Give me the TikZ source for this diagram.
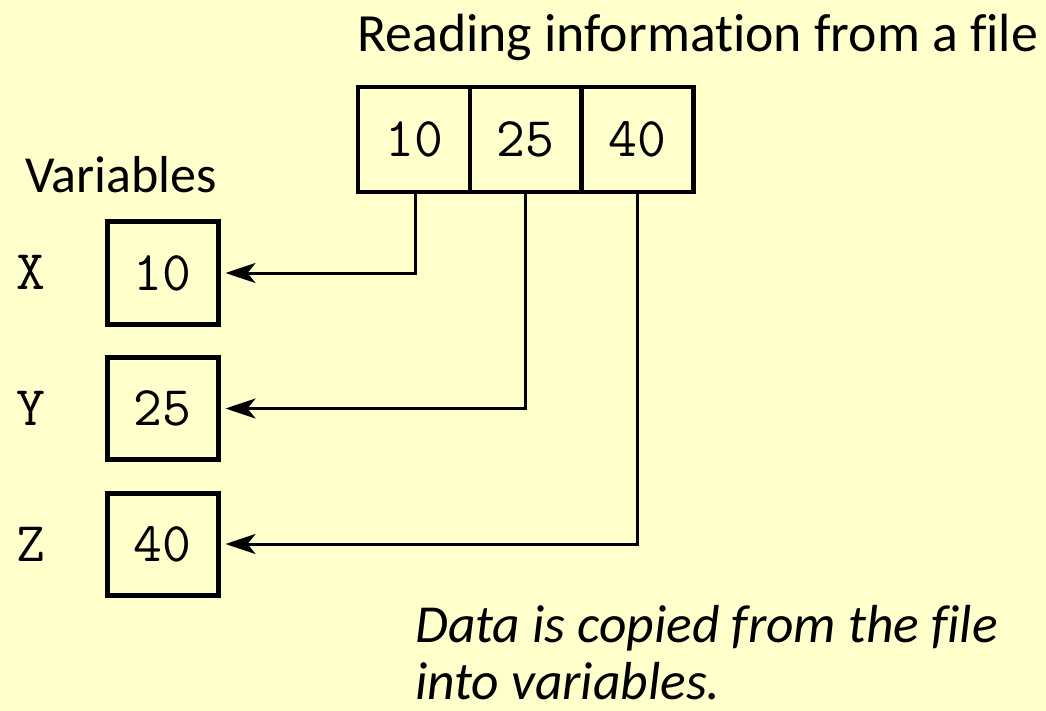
\documentclass[tikz,border=0pt]{standalone}
\usepackage{fontspec}
\setmainfont{Carlito}[Ligatures=NoCommon]
\setmonofont{Latin Modern Mono}
\usetikzlibrary{arrows.meta}
\definecolor{bgyellow}{RGB}{255,255,204}
\tikzset{
  cell/.style={draw=black, line width=4.5pt, minimum width=111.7pt, minimum height=105pt, inner sep=0pt, font=\fontsize{56}{60}\selectfont\ttfamily},
  varbox/.style={draw=black, line width=5pt, minimum width=111pt, minimum height=102pt, inner sep=0pt, font=\fontsize{56}{60}\selectfont\ttfamily},
  varlabel/.style={inner sep=0pt, font=\fontsize{56}{60}\selectfont\ttfamily},
  arr/.style={draw=black, line width=3pt, -{Stealth[length=30pt,width=20pt,inset=8pt]}, shorten >=5pt},
  heading/.style={inner sep=0pt, anchor=base west},
  note/.style={inner sep=0pt, anchor=base west, font=\fontsize{53.5}{58}\selectfont\itshape}
}
\begin{document}
\begin{tikzpicture}[x=1pt,y=-1pt]
\fill[bgyellow] (0,0) rectangle (1046,711);
\useasboundingbox (0,0) rectangle (1046,711);
% title
\node[heading, font=\fontsize{53.8}{60}\selectfont] (title) at (357,52) {Reading information from a file};
% file cells
\node[cell] (f1) at (414,139.5) {10};
\node[cell] (f2) at (525.7,139.5) {25};
\node[cell] (f3) at (637.4,139.5) {40};
% variables
\node[heading, font=\fontsize{52}{60}\selectfont] (vars) at (25,193) {Variables};
\node[varbox] (vx) at (162.5,273) {10};
\node[varbox] (vy) at (162.5,408.5) {25};
\node[varbox] (vz) at (162.5,544) {40};
\node[varlabel] (lx) at (31,272) {X};
\node[varlabel] (ly) at (31,408) {Y};
\node[varlabel] (lz) at (31,544) {Z};
% connectors
\draw[arr] ([xshift=1pt]f1.south) |- (vx.east);
\draw[arr] (f2.south) |- (vy.east);
\draw[arr] (f3.south) |- (vz.east);
% note
\node[note] (note1) at (415,642) {Data is copied from the file};
\node[note] (note2) at (415,699) {into variables.};
\end{tikzpicture}
\end{document}
